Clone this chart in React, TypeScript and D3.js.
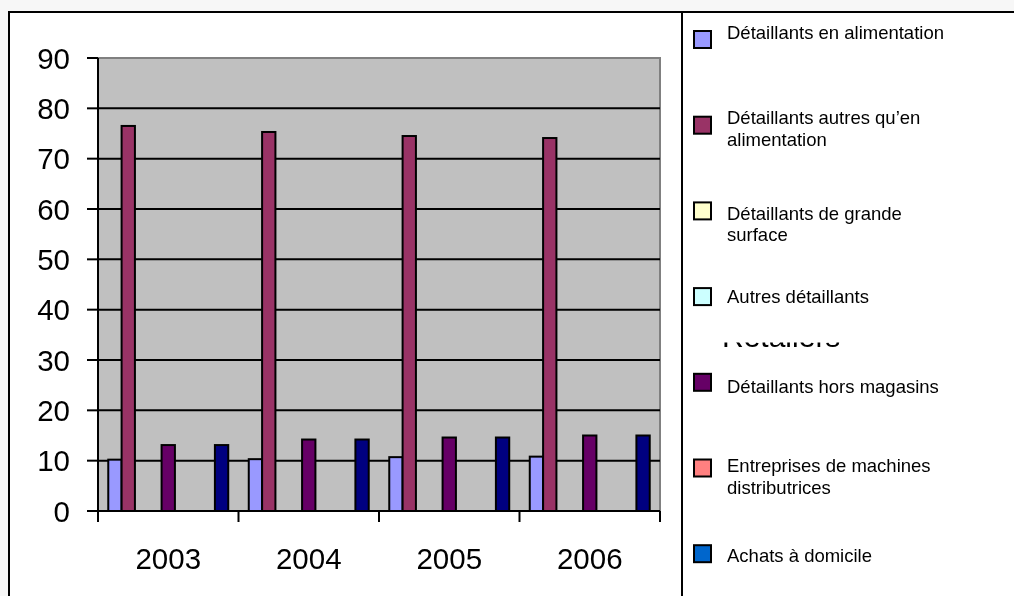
import { useMemo } from "react";
import * as d3 from "d3";

const years = ["2003", "2004", "2005", "2006"];

// 9 series in the chart; only the first 7 appear in the legend
const seriesNames = [
  "Détaillants en alimentation",
  "Détaillants autres qu’en alimentation",
  "Détaillants de grande surface",
  "Autres détaillants",
  "Détaillants hors magasins",
  "Entreprises de machines distributrices",
  "Achats à domicile",
  "Série 8",
  "Série 9",
];

const alimentation = [10.2, 10.3, 10.7, 10.8];
const autres = [76.5, 75.3, 74.5, 74.1];
const grandeSurface = [0, 0, 0, 0];
const autresDetaillants = [0, 0, 0, 0];
const horsMagasins = [13.1, 14.2, 14.6, 15.0];
const machines = [0, 0, 0, 0];
const domicile = [0, 0, 0, 0];
const serie8 = [0, 0, 0, 0];
const serie9 = [13.1, 14.2, 14.6, 15.0];

const seriesValues = [
  alimentation,
  autres,
  grandeSurface,
  autresDetaillants,
  horsMagasins,
  machines,
  domicile,
  serie8,
  serie9,
];

const yTicks = [0, 10, 20, 30, 40, 50, 60, 70, 80, 90];

const legendLines = [
  ["Détaillants en alimentation"],
  ["Détaillants autres qu’en", "alimentation"],
  ["Détaillants de grande", "surface"],
  ["Autres détaillants"],
  ["Détaillants hors magasins"],
  ["Entreprises de machines", "distributrices"],
  ["Achats à domicile"],
];

const barColors = [
  "#9999FF",
  "#993366",
  "#FFFFCC",
  "#CCFFFF",
  "#660066",
  "#FF8080",
  "#0066CC",
  "#CCCCFF",
  "#000080",
];

const legendTextDy = [9.3, 8.3, 18.3, 15.6, 20.6, 13.7, 17.7];

const W = 1014;
const H = 596;
const plot = { left: 98, right: 660, top: 58, bottom: 511 };
const FONT = "'Liberation Sans', Arial, Helvetica, sans-serif";

export default function App() {
  const x0 = useMemo(
    () => d3.scaleBand().domain(years).range([plot.left, plot.right]).padding(0),
    [],
  );
  const x1 = useMemo(
    () =>
      d3
        .scaleBand<number>()
        .domain(d3.range(seriesNames.length))
        .range([0, x0.bandwidth()])
        .paddingInner(0)
        .paddingOuter(0.77),
    [x0],
  );
  const y = useMemo(
    () => d3.scaleLinear().domain([0, 90]).range([plot.bottom, plot.top]),
    [],
  );

  const boundaries = years.map((yr) => x0(yr) as number).concat([plot.right]);
  const legendTop = 30;
  const legendStep = 85.7;

  return (
    <div style={{ position: "fixed", left: 0, top: 0 }}>
      <svg width={W} height={H} style={{ display: "block" }} fontFamily={FONT}>
        <rect x={0} y={0} width={W} height={H} fill="#f7f7f7" />
        <rect
          x={9}
          y={12}
          width={W + 20}
          height={H + 20}
          fill="#ffffff"
          stroke="#000"
          strokeWidth={2}
        />

        {/* plot area */}
        <rect
          x={plot.left}
          y={plot.top}
          width={plot.right - plot.left}
          height={plot.bottom - plot.top}
          fill="#C0C0C0"
          stroke="#808080"
          strokeWidth={2}
        />

        {/* gridlines */}
        {yTicks
          .filter((t) => t > 0 && t < 90)
          .map((t) => (
            <line
              key={`g${t}`}
              x1={plot.left}
              x2={plot.right}
              y1={y(t)}
              y2={y(t)}
              stroke="#000"
              strokeWidth={2}
            />
          ))}

        {/* bars */}
        {years.map((yr, yi) => (
          <g key={yr} transform={`translate(${x0(yr)},0)`}>
            {seriesValues.map((vals, si) =>
              vals[yi] > 0 ? (
                <rect
                  key={si}
                  x={x1(si)}
                  y={y(vals[yi])}
                  width={x1.bandwidth()}
                  height={y(0) - y(vals[yi])}
                  fill={barColors[si]}
                  stroke="#000"
                  strokeWidth={2}
                />
              ) : null,
            )}
          </g>
        ))}

        {/* y axis */}
        <line
          x1={plot.left}
          x2={plot.left}
          y1={plot.top}
          y2={plot.bottom}
          stroke="#000"
          strokeWidth={2}
        />
        {yTicks.map((t) => (
          <g key={`y${t}`}>
            <line
              x1={plot.left - 11}
              x2={plot.left}
              y1={y(t)}
              y2={y(t)}
              stroke="#000"
              strokeWidth={2}
            />
            <text
              x={70}
              y={y(t)}
              dy="0.36em"
              textAnchor="end"
              fontSize={29.5}
              fill="#000"
            >
              {t}
            </text>
          </g>
        ))}

        {/* x axis */}
        <line
          x1={plot.left}
          x2={plot.right}
          y1={plot.bottom}
          y2={plot.bottom}
          stroke="#000"
          strokeWidth={2}
        />
        {boundaries.map((bx, i) => (
          <line
            key={`xt${i}`}
            x1={bx}
            x2={bx}
            y1={plot.bottom}
            y2={plot.bottom + 11}
            stroke="#000"
            strokeWidth={2}
          />
        ))}
        {years.map((yr) => (
          <text
            key={`xl${yr}`}
            x={(x0(yr) as number) + x0.bandwidth() / 2}
            y={569}
            textAnchor="middle"
            fontSize={29.5}
            fill="#000"
          >
            {yr}
          </text>
        ))}

        {/* legend */}
        <line x1={682} x2={682} y1={12} y2={H} stroke="#000" strokeWidth={2} />
        {/* stray title mostly hidden behind the legend, only its foot shows */}
        <text x={722} y={346.5} fontSize={30} fill="#000">
          Retailers
        </text>
        <rect x={690} y={318} width={200} height={24.5} fill="#ffffff" />
        {legendLines.map((lines, i) => {
          const top = legendTop + i * legendStep;
          return (
            <g key={`lg${i}`}>
              <rect
                x={694}
                y={top + 1}
                width={17}
                height={17}
                fill={i === 6 ? "#0066CC" : barColors[i]}
                stroke="#000"
                strokeWidth={2}
              />
              <text x={727} y={top + legendTextDy[i]} fontSize={18.5} fill="#000">
                {lines.map((ln, li) => (
                  <tspan key={li} x={727} dy={li === 0 ? 0 : 21.7}>
                    {ln}
                  </tspan>
                ))}
              </text>
            </g>
          );
        })}
      </svg>
    </div>
  );
}
